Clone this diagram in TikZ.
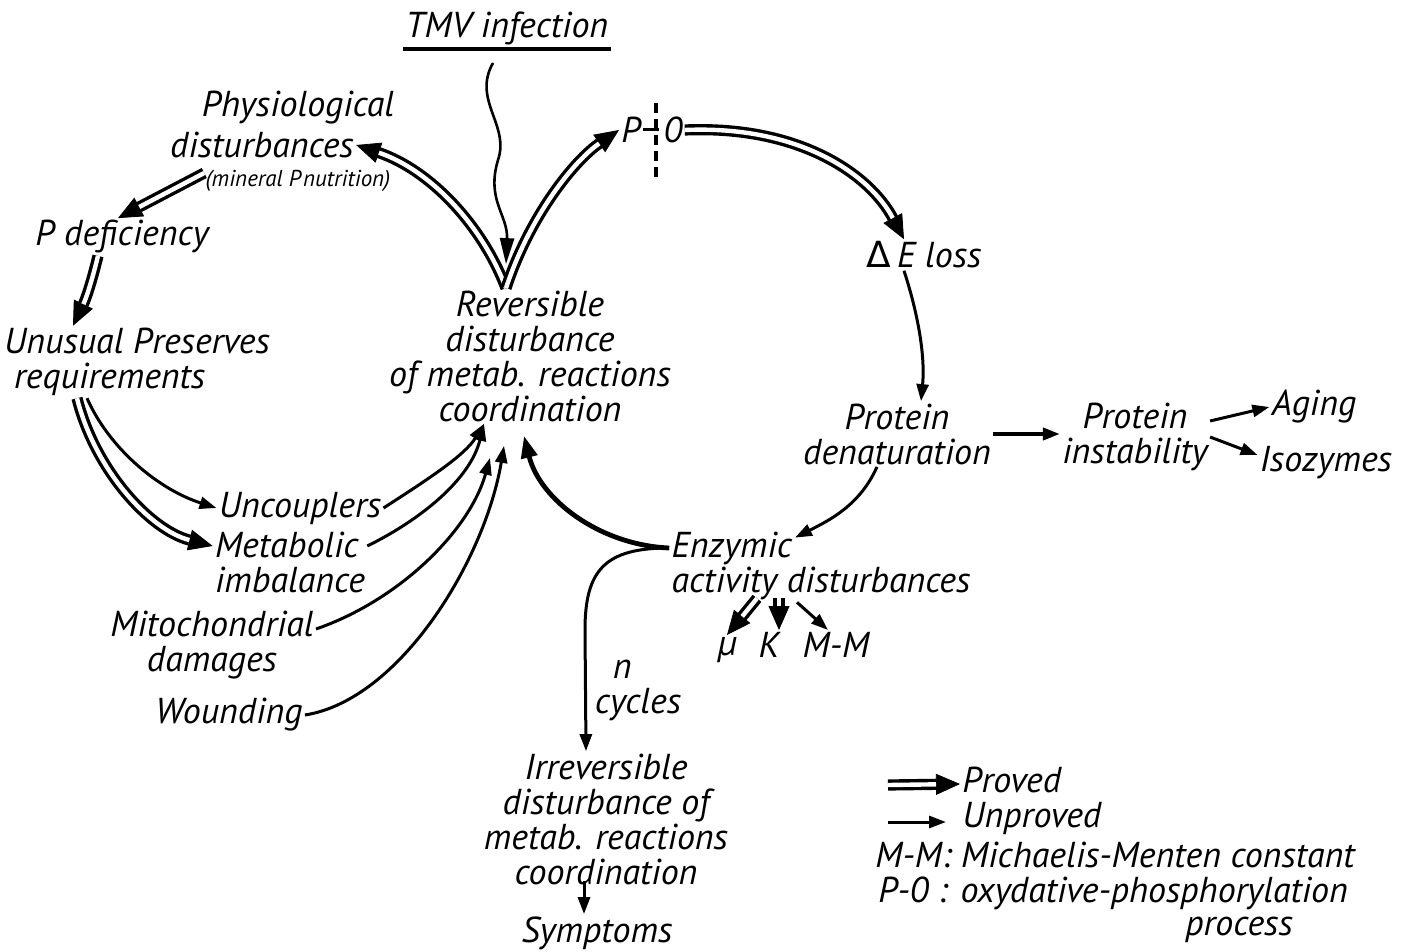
\documentclass[tikz,border=0pt]{standalone}
\usepackage{fontspec}
\setmainfont{PT Sans}
\newfontfamily\greekfont{DejaVu Sans}
\usetikzlibrary{arrows.meta}
\tikzset{
  lbl/.style={font=\fontsize{18}{17.5}\selectfont\itshape, inner sep=1pt},
  small/.style={font=\fontsize{11.5}{12}\selectfont\itshape, inner sep=0.5pt},
  unproved/.style={line width=1.5pt, -{Triangle[length=8.5pt,width=6pt]}},
  boldarrow/.style={line width=2.4pt, -{Triangle[length=11pt,width=8pt]}},
  proved/.style={line width=5.6pt, -{Triangle[length=12pt,width=10.5pt,line width=0.4pt]},
    postaction={draw=white, line width=2.2pt, -, shorten >=12pt}},
}
\begin{document}
\begin{tikzpicture}[x=0.5pt,y=-0.5pt]
\useasboundingbox (0,0) rectangle (1414,952);
\fill[white] (0,0) rectangle (1414,952);

% nodes
\node[lbl] (tmv) at (507,28) {TMV infection};
\draw[line width=2.4pt] ([yshift=-1pt]tmv.south west) -- ([yshift=-1pt]tmv.south east);
\node[lbl] (phys1) at (298,108) {Physiological};
\node[lbl] (phys2) at (262,145) {disturbances};
\node[small] (phys3) at (298,181) {(mineral P\kern1pt nutrition)};
\node[lbl] (pdef) at (122,237) {P deficiency};
\node[lbl, align=left] (unus) at (137,362) {Unusual Preserves\\\hspace*{5pt}requirements};
\node[lbl, align=center] (rev) at (530,356) {Reversible\\disturbance\\of metab. reactions\\coordination};
\node[lbl] (poP) at (631,130) {P};
\node[lbl] (poO) at (673,130) {0};
\draw[line width=1.5pt] ([xshift=0pt]poP.east) -- ++(8pt,0);
\draw[line width=1.7pt, dash pattern=on 5pt off 3pt] (656,103) -- (656,178);
\node[lbl] (del) at (924,255) {{\greekfont\upshape Δ}\,E loss};
\node[lbl, align=center] (pden) at (897,434) {Protein\\denaturation};
\node[lbl, align=center] (pins) at (1135,437) {Protein\\instability};
\node[lbl] (aging) at (1314,407) {Aging};
\node[lbl] (isoz) at (1326,463) {Isozymes};
\node[lbl] (unc) at (300,508) {Uncouplers};
\node[lbl, align=left] (meta) at (290,562) {Metabolic\\imbalance};
\node[lbl, align=center] (mito) at (212,645) {Mitochondrial\\damages};
\node[lbl] (wound) at (229,715) {Wounding};
\node[lbl, align=left] (enz) at (821,566) {Enzymic\\activity disturbances};
\node[lbl] (mu) at (727,650) {µ};
\node[lbl] (kk) at (769,645) {K};
\node[lbl] (mm) at (836,645) {M-M};
\node[lbl, align=left] (ncyc) at (638,690) {\hspace*{9pt}n\\cycles};
\node[lbl, align=center] (irr) at (606,819) {Irreversible\\disturbance of\\metab. reactions\\coordination};
\node[lbl] (symp) at (597,933) {Symptoms};

% legend
\node[lbl, anchor=west] (lprov) at (960,780) {Proved};
\node[lbl, anchor=west] (lunp) at (960,818) {Unproved};
\node[lbl, anchor=west] (lmm) at (873,855) {M-M: Michaelis-Menten constant};
\node[lbl, anchor=west] (lpo) at (876,893) {P-0 : oxydative-phosphorylation};
\node[lbl, anchor=west] (lproc) at (1183,930) {process};
\coordinate (lpa) at (888,785);
\coordinate (lua) at (888,822);
\draw[proved] (lpa) -- ([yshift=-2pt]lprov.west);
\draw[unproved] (lua) -- ([xshift=-7pt,yshift=-2pt]lunp.west);

% connectors
\draw[line width=1.3pt, -{Triangle[length=13pt,width=7pt]}] ([xshift=-7pt,yshift=-8pt]tmv.south)
  .. controls (472,100) and (510,125) .. (498,160)
  .. controls (486,200) and (508,215) .. ([xshift=-12pt,yshift=12pt]rev.north);
\draw[proved] ([xshift=-12pt]rev.north) .. controls (482,225) and (430,170) .. (phys2.east);
\draw[proved] ([xshift=-12pt]rev.north) .. controls (530,215) and (575,160) .. (poP.west);
\draw[proved] ([yshift=4pt]phys3.west) -- ([xshift=-2pt]pdef.north);
\draw[proved] ([xshift=-12pt]pdef.south) to[bend left=6] ([xshift=-32pt]unus.north);
\draw[unproved] ([xshift=-25pt]unus.south) .. controls (110,450) and (160,490) .. (unc.west);
\draw[proved] ([xshift=-30pt]unus.south) .. controls (95,470) and (150,530) .. ([yshift=8pt]meta.west);
\draw[unproved] (unc.east) .. controls (430,478) and (465,455) .. ([xshift=-23pt]rev.south);
\draw[unproved] ([yshift=8pt]meta.east) .. controls (420,520) and (470,480) .. ([xshift=-23pt]rev.south);
\draw[unproved] ([yshift=8pt]mito.east) .. controls (400,600) and (470,530) .. ([xshift=-20pt,yshift=-17pt]rev.south);
\draw[unproved] (wound.east) .. controls (400,700) and (485,560) .. ([xshift=-13pt,yshift=-11pt]rev.south);
\draw[boldarrow] ([yshift=9pt]enz.west) .. controls (600,545) and (540,500) .. ([xshift=-3pt,yshift=-6pt]rev.south);
\draw[unproved] ([yshift=9pt]enz.west) .. controls (605,548) and (585,570) .. (585,630) -- ([xshift=-10pt]irr.north);
\draw[proved] (poO.east) .. controls (800,125) and (870,175) .. ([xshift=-10pt]del.north);
\draw[unproved] ([xshift=-10pt]del.south) .. controls (920,320) and (925,360) .. ([xshift=12pt]pden.north);
\draw[unproved, line width=1.9pt] (pden.east) -- (pden.east -| pins.west);
\draw[unproved] ([yshift=8pt]pins.east) -- (aging.west);
\draw[unproved] (pins.east) -- ([yshift=4pt]isoz.west);
\draw[unproved] ([xshift=-10pt]pden.south) .. controls (860,505) and (830,520) .. ([xshift=-13pt,yshift=-4pt]enz.north);
\draw[proved] ([xshift=-32pt,yshift=2pt]enz.south) -- (mu.north);
\draw[proved] ([xshift=5pt,yshift=16pt]kk.north) -- ([xshift=5pt]kk.north);
\draw[unproved] ([xshift=-12pt]enz.south) -- ([xshift=-4pt]mm.north);
\draw[unproved] ([xshift=-11pt,yshift=3pt]irr.south) -- ([xshift=-6.5pt]symp.north);
\end{tikzpicture}
\end{document}
